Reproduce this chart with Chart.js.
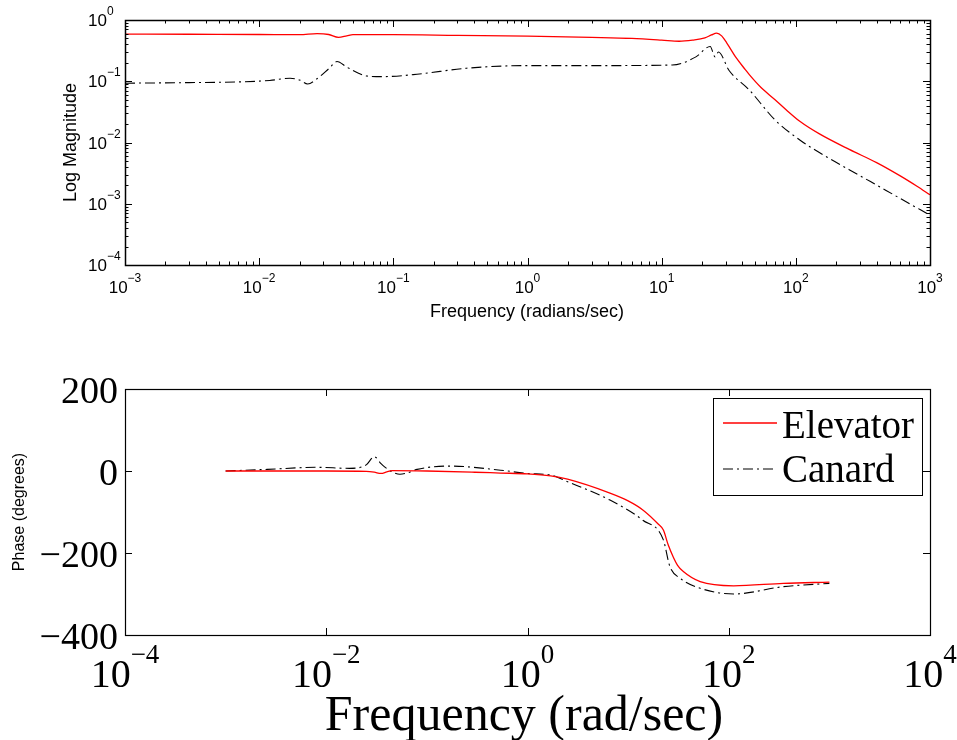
<!DOCTYPE html>
<html>
<head>
<meta charset="utf-8">
<script src="https://cdn.jsdelivr.net/npm/chart.js@4.4.1/dist/chart.umd.min.js"></script>
<style>
  html, body { margin: 0; padding: 0; background: #fff; }
  #wrap { position: relative; width: 957px; height: 740px; }
  canvas { position: absolute; left: 0; }
  #magChart { top: 0; }
  #phaseChart { top: 340px; }
</style>
</head>
<body>
<div id="wrap">
  <canvas id="magChart" width="957" height="340"></canvas>
  <canvas id="phaseChart" width="957" height="400"></canvas>
</div>
<script>
// Bode plot: elevator vs canard — magnitude (top) and phase (bottom)

// magnitude
const magFreqElev = [0.001, 0.003, 0.01, 0.02, 0.027, 0.033, 0.039, 0.045, 0.05, 0.1, 0.3, 1, 3, 6, 10, 13.5, 17, 21, 23.5, 25.7, 28, 30.6, 36, 42, 45, 55, 70, 85, 107, 150, 250, 400, 600, 800, 1000];
const magElev     = [0.59, 0.585, 0.58, 0.575, 0.60, 0.58, 0.52, 0.55, 0.575, 0.575, 0.56, 0.545, 0.52, 0.50, 0.47, 0.45, 0.47, 0.51, 0.57, 0.61, 0.55, 0.42, 0.24, 0.155, 0.128, 0.079, 0.05, 0.034, 0.0222, 0.0138, 0.0077, 0.0047, 0.00285, 0.00193, 0.0014];
const magFreqCan  = [0.001, 0.003, 0.0076, 0.012, 0.017, 0.02, 0.023, 0.027, 0.033, 0.038, 0.045, 0.055, 0.063, 0.083, 0.15, 0.35, 1, 3, 12, 18, 23, 25, 26.5, 31.8, 45, 70, 107, 170, 250, 360, 600, 1000];
const magCan      = [0.093, 0.095, 0.098, 0.103, 0.112, 0.105, 0.09, 0.11, 0.16, 0.21, 0.17, 0.135, 0.122, 0.119, 0.13, 0.163, 0.18, 0.18, 0.184, 0.25, 0.37, 0.25, 0.30, 0.15, 0.072, 0.0233, 0.011, 0.0058, 0.0036, 0.0023, 0.00122, 0.00065];

// phase (degrees)
const phFreqElev = [0.001, 0.01, 0.025, 0.03, 0.035, 0.04, 0.045, 0.1, 0.3, 0.54, 1, 1.7, 2.5, 6.6, 10, 14, 20, 22.4, 25, 28, 31, 35.6, 52, 112, 350, 1000];
const phElev     = [0, 0, -1, -3, -6, -2, 1, 0, -3, -5, -7, -12, -20, -54, -73, -95, -130, -144, -180, -209, -230, -246, -270, -280, -274, -271];
const phFreqCan  = [0.001, 0.0026, 0.008, 0.017, 0.025, 0.03, 0.035, 0.038, 0.045, 0.054, 0.065, 0.08, 0.17, 0.54, 1, 1.7, 2.5, 6.6, 14, 22.4, 26, 33, 52, 112, 350, 1000];
const phCan      = [0, 4, 9, 6.5, 15, 35, 18, 10, -2, -8, -4, 4, 12, 2, -6, -10, -26, -71, -120, -168, -233, -262, -286, -300, -282, -274];

// axis ticks
const magXTicks = [1e-3, 1e-2, 1e-1, 1, 1e1, 1e2, 1e3];
const magYTicks = [1e-4, 1e-3, 1e-2, 1e-1, 1];
const phXTicks  = [1e-4, 1e-2, 1, 1e2, 1e4];
const phYTicks  = [-400, -200, 0, 200];

const SANS  = '"Liberation Sans", Arial, sans-serif';
const SERIF = '"Liberation Serif", "Times New Roman", serif';

function pts(xs, ys) { return xs.map((x, i) => ({ x, y: ys[i] })); }
function expText(v) { return String(Math.round(Math.log10(v))).replace("-", "\u2212"); }

// "10" with a raised exponent; align = "center" on the whole label or "right" for the base
function powLabel(ctx, v, px, base, o) {
  const e = expText(v);
  ctx.font = o.font;
  const wb = ctx.measureText("10").width;
  ctx.font = o.supFont;
  const we = ctx.measureText(e).width;
  let x0 = o.align === "center" ? px - (wb + we) / 2 : px - wb;
  ctx.font = o.font;
  ctx.fillText("10", x0, base);
  ctx.font = o.supFont;
  ctx.fillText(e, x0 + wb, base - o.raise);
}

const bodeAxes = {
  id: "bodeAxes",
  afterDraw(chart, args, o) {
    const { ctx, chartArea: a } = chart;
    const xs = chart.scales.x, ys = chart.scales.y;
    ctx.save();
    ctx.strokeStyle = "#000";
    ctx.fillStyle = "#000";
    ctx.lineWidth = 1;
    const line = (x1, y1, x2, y2) => { ctx.beginPath(); ctx.moveTo(x1, y1); ctx.lineTo(x2, y2); ctx.stroke(); };

    // tick marks, inward on all four sides
    const xt = o.xTicks.map(v => [xs.getPixelForValue(v), o.tickLen]);
    const yt = o.yTicks.map(v => [ys.getPixelForValue(v), o.tickLen]);
    if (o.minor) {
      for (let d = -3; d < 3; d++) for (let k = 2; k < 10; k++) xt.push([xs.getPixelForValue(k * Math.pow(10, d)), o.minorLen]);
      for (let d = -4; d < 0; d++) for (let k = 2; k < 10; k++) yt.push([ys.getPixelForValue(k * Math.pow(10, d)), o.minorLen]);
    }
    xt.forEach(([p, l]) => { const q = Math.round(p) + 0.5; line(q, a.bottom, q, a.bottom - l); line(q, a.top, q, a.top + l); });
    yt.forEach(([p, l]) => { const q = Math.round(p) + 0.5; line(a.left, q, a.left + l, q); line(a.right, q, a.right - l, q); });

    ctx.lineWidth = o.boxWidth;
    ctx.strokeRect(Math.round(a.left) + 0.5, Math.round(a.top) + 0.5, Math.round(a.width), Math.round(a.height));

    // tick labels
    ctx.textAlign = "left";
    ctx.textBaseline = "alphabetic";
    o.xTicks.forEach(v => powLabel(ctx, v, xs.getPixelForValue(v), a.bottom + o.xLabelDy, { font: o.xFont, supFont: o.xSupFont, raise: o.xRaise, align: "center" }));
    if (o.yLog) {
      o.yTicks.forEach(v => powLabel(ctx, v, a.left + o.yLabelDx, ys.getPixelForValue(v) + o.yLabelDy, { font: o.yFont, supFont: o.ySupFont, raise: o.yRaise, align: "right" }));
    } else {
      ctx.textAlign = "right";
      ctx.font = o.yFont;
      o.yTicks.forEach(v => ctx.fillText(String(v).replace("-", "\u2212"), a.left + o.yLabelDx, ys.getPixelForValue(v) + o.yLabelDy));
    }

    // axis titles
    ctx.textAlign = "center";
    ctx.font = o.xTitleFont;
    ctx.fillText(o.xTitle, o.xTitleX, a.bottom + o.xTitleDy);
    ctx.save();
    ctx.translate(o.yTitleX, (a.top + a.bottom) / 2);
    ctx.rotate(-Math.PI / 2);
    ctx.font = o.yTitleFont;
    ctx.fillText(o.yTitle, 0, 0);
    ctx.restore();

    // legend box inside the axes (top right)
    if (o.legend) {
      const L = o.legend;
      const lx = a.right - L.right - L.w, ly = a.top + L.top;
      ctx.fillStyle = "#fff";
      ctx.fillRect(lx, ly, L.w, L.h);
      ctx.lineWidth = 1;
      ctx.strokeStyle = "#000";
      ctx.strokeRect(Math.round(lx) + 0.5, Math.round(ly) + 0.5, L.w, L.h);
      ctx.fillStyle = "#000";
      ctx.textAlign = "left";
      ctx.font = L.font;
      chart.data.datasets.forEach((ds, i) => {
        const ry = ly + L.lineY[i];
        ctx.save();
        ctx.strokeStyle = ds.borderColor;
        ctx.lineWidth = ds.borderWidth;
        ctx.setLineDash(ds.borderDash || []);
        line(lx + 10, ry, lx + 64, ry);
        ctx.restore();
        ctx.fillText(ds.label, lx + 69, ly + L.textY[i]);
      });
    }
    ctx.restore();
  }
};

const elevStyle = { borderColor: "#ff0000", borderWidth: 1.3, pointRadius: 0, showLine: true, fill: false, cubicInterpolationMode: "monotone" };
const canStyle  = { borderColor: "#000000", borderWidth: 1.1, borderDash: [10, 4, 2, 4], pointRadius: 0, showLine: true, fill: false, cubicInterpolationMode: "monotone" };

new Chart(document.getElementById("magChart"), {
  type: "scatter",
  data: {
    datasets: [
      Object.assign({ label: "Elevator", data: pts(magFreqElev, magElev) }, elevStyle),
      Object.assign({ label: "Canard", data: pts(magFreqCan, magCan) }, canStyle)
    ]
  },
  options: {
    responsive: false,
    animation: false,
    events: [],
    layout: { padding: { left: 125, right: 27, top: 20, bottom: 75 } },
    scales: {
      x: { type: "logarithmic", min: 1e-3, max: 1e3, display: false },
      y: { type: "logarithmic", min: 1e-4, max: 1, display: false }
    },
    plugins: {
      legend: { display: false },
      tooltip: { enabled: false },
      bodeAxes: {
        xTicks: magXTicks, yTicks: magYTicks, yLog: true,
        minor: true, tickLen: 7, minorLen: 3.5, boxWidth: 1.5,
        xFont: "17px " + SANS, xSupFont: "12px " + SANS, xLabelDy: 28, xRaise: 11,
        yFont: "17px " + SANS, ySupFont: "12px " + SANS, yLabelDx: -18, yLabelDy: 6, yRaise: 11,
        xTitle: "Frequency (radians/sec)", xTitleFont: "18px " + SANS, xTitleX: 527, xTitleDy: 52,
        yTitle: "Log Magnitude", yTitleFont: "18px " + SANS, yTitleX: 76
      }
    }
  },
  plugins: [bodeAxes]
});

new Chart(document.getElementById("phaseChart"), {
  type: "scatter",
  data: {
    datasets: [
      Object.assign({ label: "Elevator", data: pts(phFreqElev, phElev) }, elevStyle),
      Object.assign({ label: "Canard", data: pts(phFreqCan, phCan) }, canStyle)
    ]
  },
  options: {
    responsive: false,
    animation: false,
    events: [],
    layout: { padding: { left: 125, right: 27, top: 49, bottom: 105 } },
    scales: {
      x: { type: "logarithmic", min: 1e-4, max: 1e4, display: false },
      y: { type: "linear", min: -400, max: 200, display: false }
    },
    plugins: {
      legend: { display: false },
      tooltip: { enabled: false },
      bodeAxes: {
        xTicks: phXTicks, yTicks: phYTicks, yLog: false,
        minor: false, tickLen: 7, boxWidth: 1.2,
        xFont: "40px " + SERIF, xSupFont: "27px " + SERIF, xLabelDy: 52, xRaise: 24,
        yFont: "38px " + SERIF, yLabelDx: -7, yLabelDy: 14,
        xTitle: "Frequency (rad/sec)", xTitleFont: "50px " + SERIF, xTitleX: 524, xTitleDy: 95,
        yTitle: "Phase (degrees)", yTitleFont: "16px " + SANS, yTitleX: 24,
        legend: { w: 209, h: 97, right: 8, top: 9, font: "39px " + SERIF, lineY: [25, 71], textY: [40, 84] }
      }
    }
  },
  plugins: [bodeAxes]
});
</script>
</body>
</html>
